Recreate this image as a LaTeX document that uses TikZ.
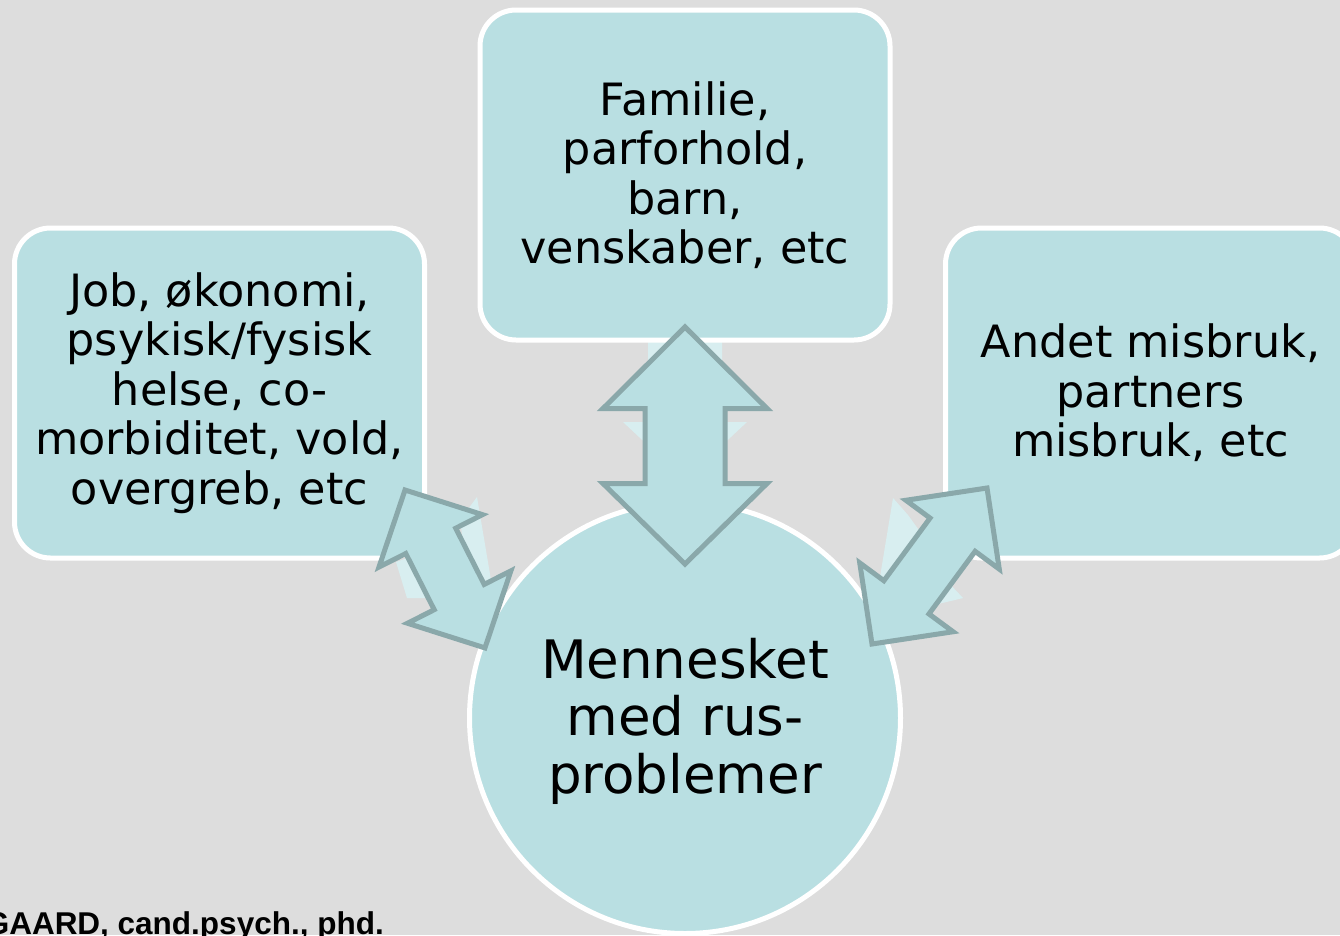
\documentclass[tikz,border=0pt]{standalone}
\usepackage{fontspec}
\setmainfont{DejaVu Sans}
\newfontfamily\creditfont{Liberation Sans}
\definecolor{bgcol}{HTML}{DDDDDD}
\definecolor{tealfill}{HTML}{B9DFE2}
\definecolor{paleteal}{HTML}{D8EEF0}
\definecolor{arrowline}{HTML}{8AA8AA}
\begin{document}
\begin{tikzpicture}[x=1pt,y=-1pt,
  topicbox/.style={draw=white, line width=5pt, fill=tealfill, rounded corners=36pt,
    minimum width=410pt, minimum height=330pt, inner sep=0pt, align=center,
    text=black, font=\fontsize{44.5}{49.5}\selectfont},
  hubnode/.style={circle, draw=white, line width=5pt, fill=tealfill,
    minimum size=431pt, inner sep=0pt, align=center, text=black,
    font=\fontsize{53}{57.5}\selectfont},
  blockarrow/.style={fill=tealfill, draw=arrowline, line width=5pt, line join=miter},
  ghostarrow/.style={fill=paleteal, draw=none}]
\useasboundingbox (0,0) rectangle (1340,935);
\clip (0,0) rectangle (1340,935);
\fill[bgcol] (0,0) rectangle (1340,935);

% pale background arrow fragments
\fill[ghostarrow] (648,330) -- (722,330) -- (722,422) -- (747,422) -- (685,480) -- (623,422) -- (648,422) -- cycle;
\fill[ghostarrow] (477,497) -- (491,580) -- (470,590) -- (460,520) -- cycle;
\fill[ghostarrow] (396,562) -- (407,598) -- (432,598) -- (413,556) -- cycle;
\fill[ghostarrow] (893,498) -- (908,515) -- (921,533) -- (897,585) -- (880,577) -- cycle;
\fill[ghostarrow] (946,580) -- (963,598) -- (930,606) -- cycle;

% boxes
\node[topicbox] (family) at (685,175) {Familie,\\parforhold,\\barn,\\venskaber, etc};
\node[topicbox] (job) at (219.5,393) {Job, økonomi,\\psykisk/fysisk\\helse, co-\\morbiditet, vold,\\overgreb, etc};
\node[topicbox] (abuse) at (1150.5,393) {Andet misbruk,\\partners\\misbruk, etc};

% central circle
\node[hubnode] (hub) at (685,718) {};
\node[align=center, text=black, inner sep=0pt, font=\fontsize{53}{57.5}\selectfont]
  (hubtext) at (685,721) {Mennesket\\med rus-\\problemer};

% block arrows
\draw[blockarrow] (685,327) -- (767,408.5) -- (725,408.5) -- (725,483.5) -- (767,483.5)
  -- (685,564) -- (603,483.5) -- (645,483.5) -- (645,408.5) -- (603,408.5) -- cycle;
\draw[blockarrow] (405,490) -- (482.5,514.65) -- (455.7,528.2) -- (484.2,584.4)
  -- (510.9,570.85) -- (484.95,647.9) -- (407.5,623.25) -- (434.2,609.7)
  -- (405.8,553.5) -- (379,567.05) -- cycle;
\draw[blockarrow] (987,488) -- (999.27,569.1) -- (975.12,551.3) -- (928.96,613.93)
  -- (953.11,631.73) -- (872,644) -- (859.73,562.89) -- (883.88,580.69)
  -- (930.04,518.06) -- (905.89,500.26) -- cycle;

% credit line (cut off at the page edge, as in the reference)
\node[anchor=base east, inner sep=0pt, text=black,
  font=\creditfont\bfseries\fontsize{31.5}{36}\selectfont] (credit) at (384,934)
  {GAARD, cand.psych., phd.};
\end{tikzpicture}
\end{document}
